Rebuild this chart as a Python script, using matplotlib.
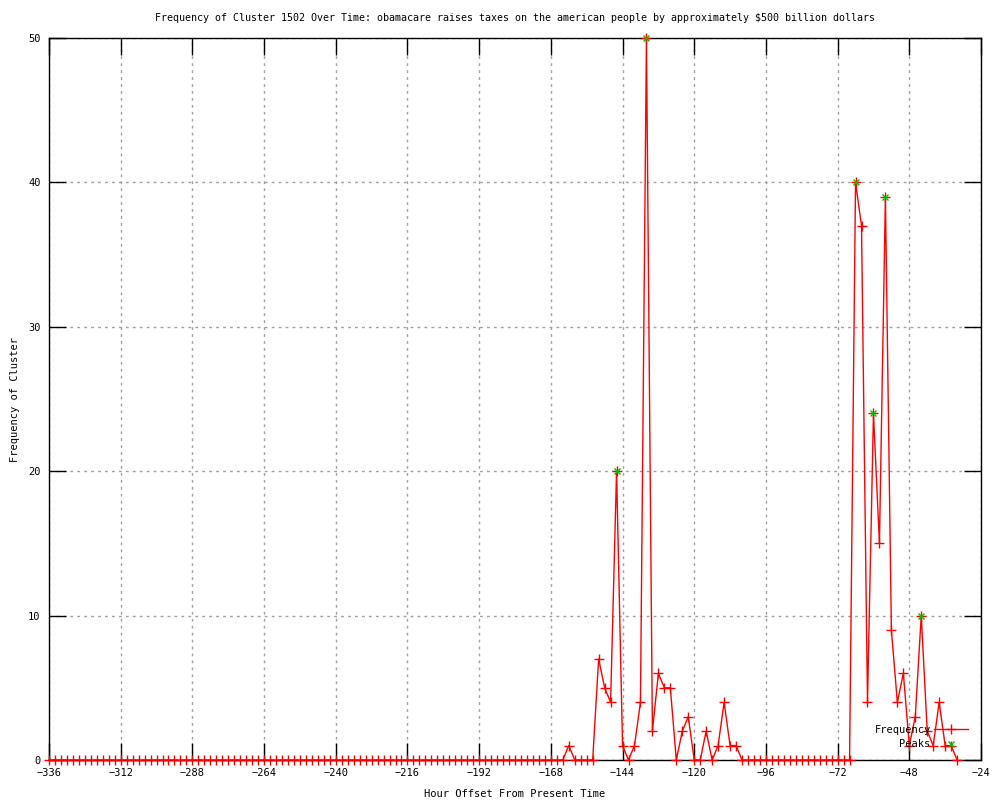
import numpy as np
import matplotlib
matplotlib.use('Agg')
from matplotlib import pyplot as plt

title = 'Frequency of Cluster 1502 Over Time: obamacare raises taxes on the american people by approximately $500 billion dollars'

# hours -336 .. -32, every 2 hours
hours = list(range(-336, -31, 2))

# non-zero stretch -162 .. -104
early = [1, 0, 0, 0, 0, 7, 5, 4, 20, 1, 0, 1, 4, 50, 2, 6, 5, 5, 0, 2,
         3, 0, 0, 2, 0, 1, 4, 1, 1, 0]
# -66 .. -32
late = [40, 37, 4, 24, 15, 39, 9, 4, 6, 1, 3, 10, 2, 1, 4, 1, 1, 0]

freq = [0] * len(hours)
for i, v in enumerate(early):
    freq[hours.index(-162 + 2 * i)] = v
for i, v in enumerate(late):
    freq[hours.index(-66 + 2 * i)] = v

peak_hours = [-146, -136, -66, -60, -56, -44]
peak_vals = [freq[hours.index(h)] for h in peak_hours]

xticks = list(range(-336, -23, 24))
yticks = list(range(0, 51, 10))

plt.rcParams['font.family'] = ['DejaVu Sans Mono']
plt.rcParams['font.size'] = 7.2

fig = plt.figure(figsize=(10, 8), dpi=100)
ax = fig.add_axes([0.049, 0.05, 0.932, 0.9025])

ax.plot(hours, freq, color='#ff0000', lw=1, marker='+', ms=7, mew=1,
        label='Frequency', clip_on=False, zorder=3)
ax.plot(peak_hours, peak_vals, ls='none', color='#00c000', marker='x', ms=5,
        mew=1, label='Peaks', clip_on=False, zorder=4)

ax.set_xlim(-336, -24)
ax.set_ylim(0, 50)
ax.set_xticks(xticks)
ax.set_yticks(yticks)
ax.tick_params(direction='in', length=12, width=1, top=True, right=True,
               labelsize=7.5, pad=6, color='black')
ax.grid(True, color='#a0a0a0', ls=(0, (2, 3)), lw=1)
for s in ax.spines.values():
    s.set_linewidth(1)

ax.set_title(title, fontsize=7.2, pad=12)
ax.set_xlabel('Hour Offset From Present Time', fontsize=7.5, labelpad=7.5)
ax.set_ylabel('Frequency of Cluster', fontsize=7.5, labelpad=6)

ax.legend(loc='lower right', bbox_to_anchor=(0.993, 0.006), frameon=False,
          markerfirst=False, handlelength=3.3, handletextpad=0.3,
          labelspacing=0.45, fontsize=7.5, borderaxespad=0.2)

fig.savefig('out.png', dpi=100)
